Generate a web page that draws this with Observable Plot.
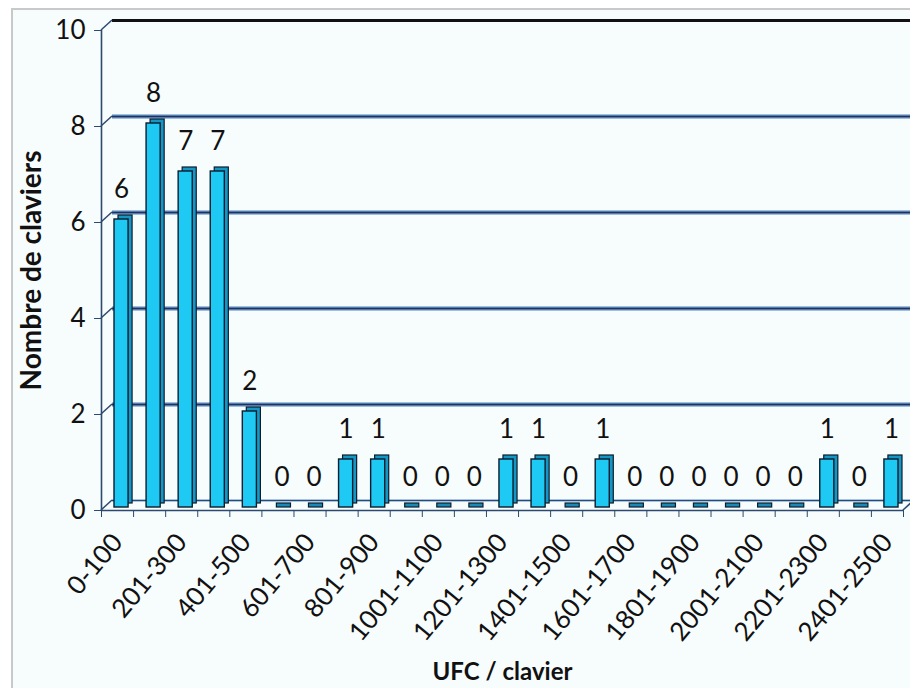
<!DOCTYPE html>
<html><head><meta charset="utf-8">
<script src="https://cdn.jsdelivr.net/npm/d3@7"></script>
<script src="https://cdn.jsdelivr.net/npm/@observablehq/plot@0.6"></script>
<style>
html,body{margin:0;padding:0;background:#fff;overflow:hidden;}
#wrap{position:relative;width:910px;height:688px;overflow:hidden;}
#panel{position:absolute;left:11px;top:8px;width:920px;height:700px;border-left:2px solid #c9c9c9;border-top:2px solid #c9c9c9;background:#f7fcfd;}
#chart{position:absolute;left:0;top:0;}
</style></head><body>
<div id="wrap"><div id="panel"></div><div id="chart"></div></div>
<script>
const categories = ["0-100","101-200","201-300","301-400","401-500","501-600","601-700","701-800","801-900","901-1000","1001-1100","1101-1200","1201-1300","1301-1400","1401-1500","1501-1600","1601-1700","1701-1800","1801-1900","1901-2000","2001-2100","2101-2200","2201-2300","2301-2400","2401-2500"];
const counts = [6,8,7,7,2,0,0,1,1,0,0,0,1,1,0,1,0,0,0,0,0,0,1,0,1];
const yTicks = [0,2,4,6,8,10];
const yLabel = "Nombre de claviers";
const xLabel = "UFC / clavier";

const data = categories.map((c, i) => ({cat: c, i, v: counts[i]}));
const nonZero = data.filter(d => d.v > 0);
const zeros = data.filter(d => d.v === 0);
const boundaries = d3.range(categories.length + 1);
const labelTicks = d3.range(0, categories.length, 2).map(i => i + 0.5);

const DEPTH_X = 11, DEPTH_Y = 10;
const axisColor = "#2c4a70";
const barStroke = "#0b1c2c";

const depthLinks = (index, {x, y}) => {
  const g = d3.create("svg:g").attr("stroke", axisColor).attr("stroke-width", 1.5);
  const x0 = x(0);
  for (const t of yTicks) {
    g.append("line").attr("x1", x0).attr("y1", y(t)).attr("x2", x0 + DEPTH_X).attr("y2", y(t) - DEPTH_Y);
  }
  const xn = x(categories.length);
  g.append("line").attr("x1", xn).attr("y1", y(0)).attr("x2", xn + DEPTH_X).attr("y2", y(0) - DEPTH_Y);
  return g.node();
};

const chart = Plot.plot({
  width: 910,
  height: 688,
  marginLeft: 101,
  marginRight: 7,
  marginTop: 30,
  marginBottom: 178,
  style: {background: "transparent", fontFamily: "Lato, 'Open Sans', sans-serif", color: "#111", overflow: "visible"},
  x: {type: "linear", domain: [0, categories.length]},
  y: {domain: [0, 10]},
  marks: [
    // back wall gridlines
    Plot.ruleY(yTicks.filter(t => t > 0 && t < 10), {y: d => d, dx: DEPTH_X, dy: -DEPTH_Y, stroke: "#9fc0e6", strokeWidth: 5}),
    Plot.ruleY(yTicks.filter(t => t > 0 && t < 10), {y: d => d, dx: DEPTH_X, dy: -DEPTH_Y, stroke: "#1b3360", strokeWidth: 2.2}),
    Plot.ruleY([10], {y: d => d, dx: DEPTH_X, dy: -DEPTH_Y, stroke: "#111", strokeWidth: 3}),
    Plot.ruleY([0], {y: d => d, dx: DEPTH_X, dy: -DEPTH_Y, stroke: "#a8c4e4", strokeWidth: 3}),
    Plot.ruleY([0], {y: d => d, dx: DEPTH_X, dy: -DEPTH_Y, stroke: axisColor, strokeWidth: 1.2}),
    depthLinks,
    // front axes
    Plot.ruleX([0], {x: d => d, stroke: axisColor, strokeWidth: 1.6}),
    Plot.ruleY([0], {y: d => d, stroke: axisColor, strokeWidth: 1.6}),
    Plot.axisY({ticks: yTicks, tickSize: 7, tickPadding: 9, fontSize: 26, stroke: axisColor, fill: "#111", label: null}),
    Plot.axisX({ticks: boundaries, tickSize: 7, tickFormat: () => "", stroke: axisColor, label: null}),
    Plot.axisX({ticks: labelTicks, tickSize: 0, tickPadding: 27, tickRotate: -50, fontSize: 26, fill: "#111",
      tickFormat: d => categories[Math.floor(d)], label: null}),
    // 3D bars: depth (side/top) then front face
    Plot.rectY(nonZero, {x1: d => d.i, x2: d => d.i + 1, y: "v", insetLeft: 13, insetRight: 5, dx: 4, dy: -7,
      fill: "#1597c5", stroke: barStroke, strokeWidth: 1.2}),
    Plot.rectY(nonZero, {x1: d => d.i, x2: d => d.i + 1, y: "v", insetLeft: 13, insetRight: 5, dy: -3,
      fill: "#1ec9f4", stroke: barStroke, strokeWidth: 1.4}),
    Plot.rect(zeros, {x1: d => d.i, x2: d => d.i + 1, y1: d => d.v, y2: d => d.v, insetLeft: 13, insetRight: 5,
      insetTop: -4, dx: 2, dy: -3, fill: "#1a8ab5", stroke: barStroke, strokeWidth: 1.2}),
    // value labels
    Plot.text(data, {x: d => d.i + 0.5, y: "v", text: d => String(d.v), dx: 4, dy: -25, lineAnchor: "bottom",
      fontSize: 26, fill: "#111"}),
    // axis titles
    Plot.text([yLabel], {text: d => d, frameAnchor: "left", textAnchor: "middle", dx: -69, rotate: -90, fontSize: 28, fontWeight: "bold", fill: "#111"}),
    Plot.text([xLabel], {text: d => d, frameAnchor: "bottom", dy: 162, lineAnchor: "middle", fontSize: 24, fontWeight: "bold", fill: "#111"})
  ]
});
document.getElementById("chart").appendChild(chart);
</script>
</body></html>
